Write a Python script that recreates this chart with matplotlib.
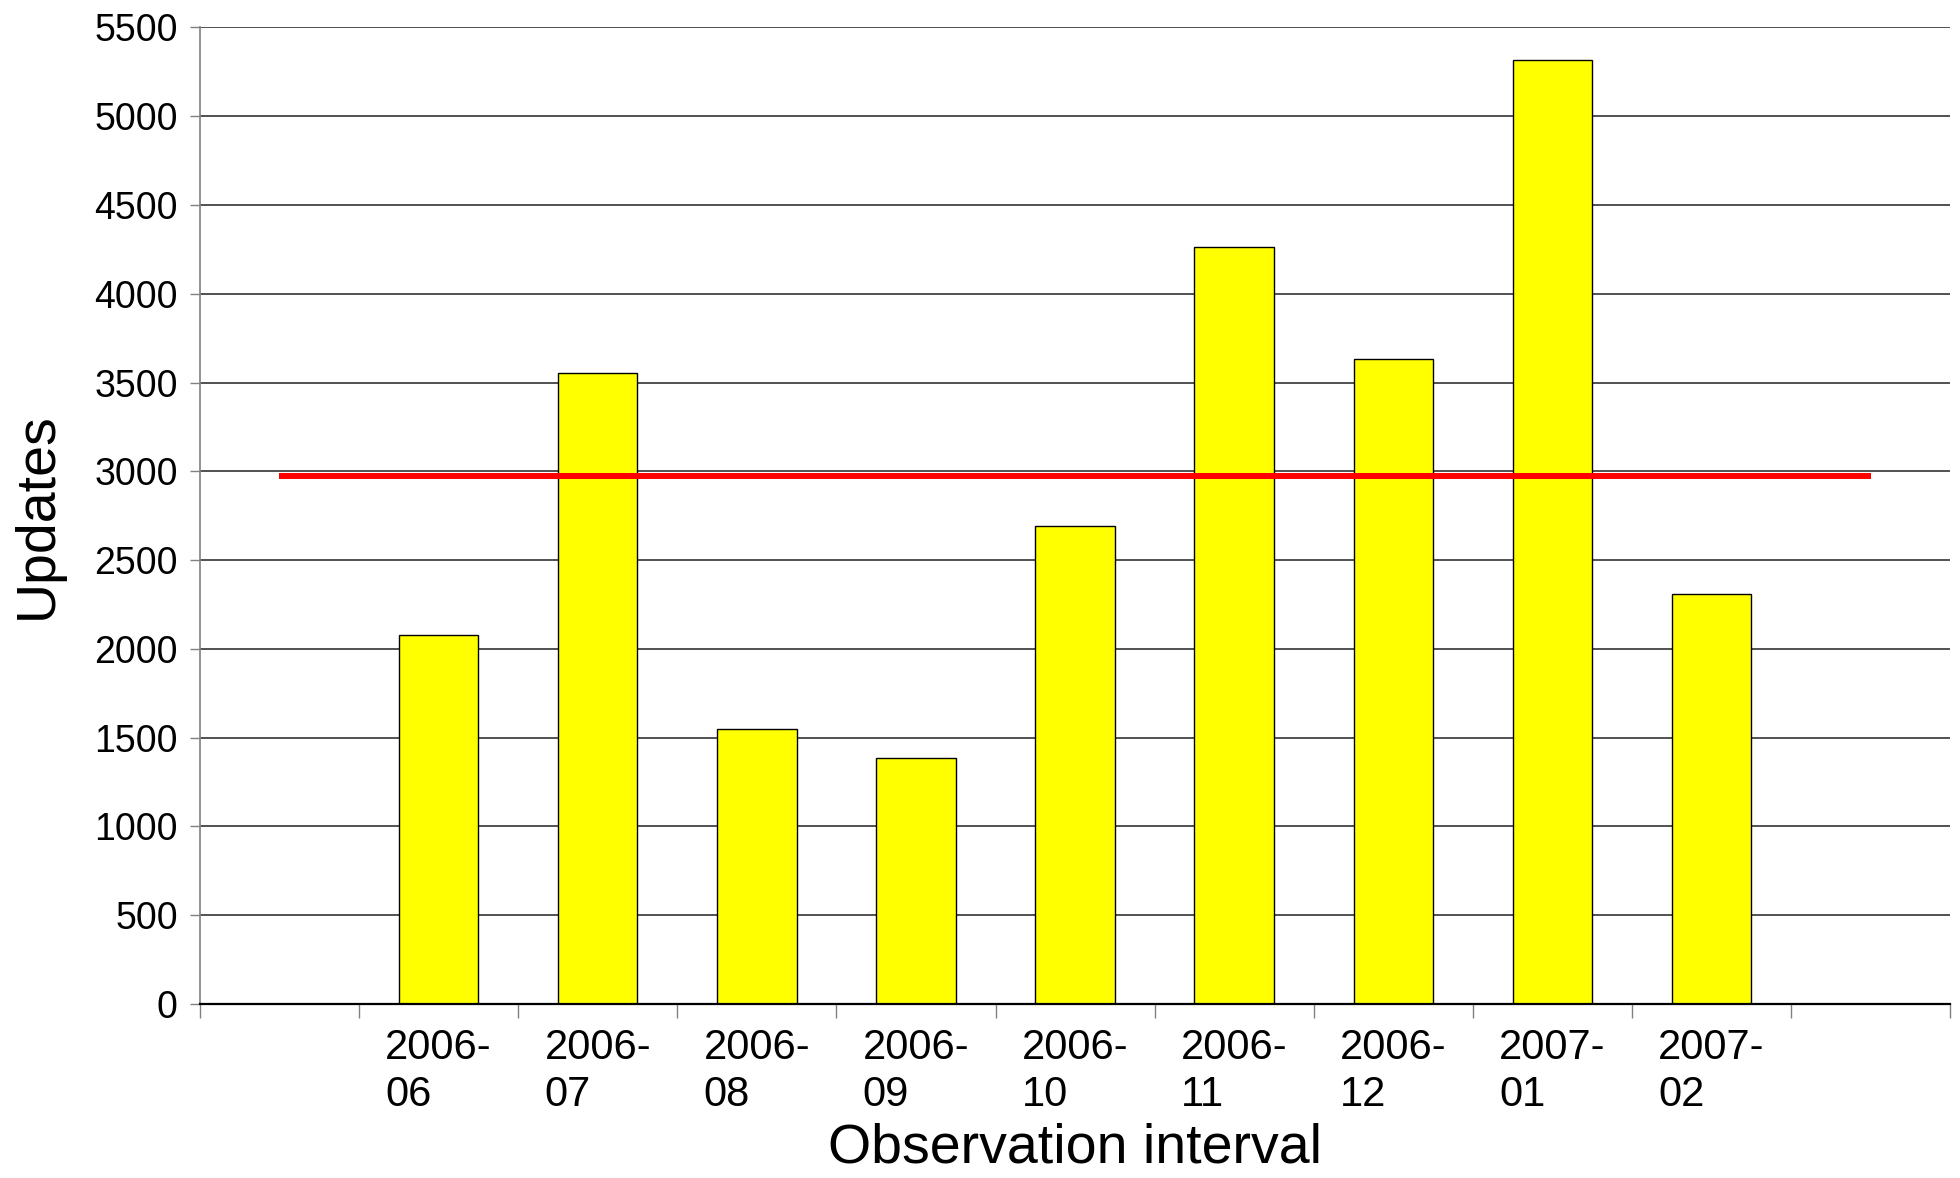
import numpy as np
import matplotlib
matplotlib.use("Agg")
import matplotlib.pyplot as plt

plt.rcParams['font.family'] = ['Liberation Sans', 'DejaVu Sans']

# data
months = ['2006-\n06', '2006-\n07', '2006-\n08', '2006-\n09', '2006-\n10',
          '2006-\n11', '2006-\n12', '2007-\n01', '2007-\n02']
updates = [2077, 3556, 1549, 1387, 2690, 4261, 3634, 5317, 2310]
avg_updates = 2976

n_slots = len(months) + 2   # one empty slot each side
x = np.arange(1, len(months) + 1)

fig = plt.figure(figsize=(19.6, 11.78), dpi=100)
ax = fig.add_axes([0.102, 0.1477, 0.893, 0.829])

ax.bar(x, updates, width=0.5, color='#ffff00', edgecolor='black', linewidth=1.0, zorder=2)
ax.plot([0, n_slots - 1], [avg_updates, avg_updates], color='#ff0000', lw=4.3, zorder=3,
        solid_capstyle='butt')

ax.set_xlim(-0.5, n_slots - 0.5)
ax.set_ylim(0, 5500)
ax.set_yticks(np.arange(0, 5501, 500))
ax.yaxis.grid(True, color='#333333', lw=1.2, zorder=0)
ax.set_axisbelow(True)

# category boundaries as ticks, labels centred in the slots
ax.set_xticks(np.arange(-0.5, n_slots, 1.0), minor=True)
ax.set_xticks(x)
ax.set_xticklabels(months, multialignment='left', linespacing=1.25)
ax.tick_params(axis='x', which='major', length=0, pad=17, labelsize=30)
ax.tick_params(axis='x', which='minor', length=10, width=1.0, color='#808080')
ax.tick_params(axis='y', length=7, width=1.0, color='#808080', pad=9, labelsize=27)

for s in ['top', 'right']:
    ax.spines[s].set_visible(False)
ax.spines['left'].set_color('#808080')
ax.spines['left'].set_linewidth(1.2)
ax.spines['bottom'].set_color('black')
ax.spines['bottom'].set_linewidth(1.6)

ax.set_xlabel('Observation interval', fontsize=40, labelpad=5)
ax.set_ylabel('Updates', fontsize=40, labelpad=22)

fig.savefig('out.png', dpi=100)
